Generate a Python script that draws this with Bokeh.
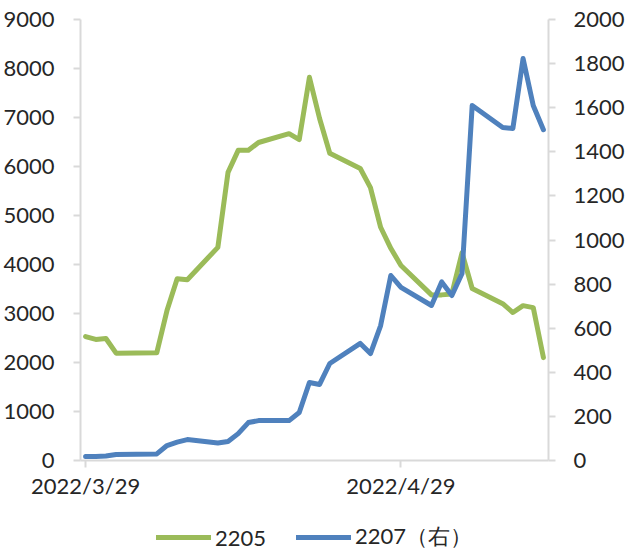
from datetime import date
from bokeh.plotting import figure
from bokeh.layouts import column
from bokeh.models import (Range1d, LinearAxis, FixedTicker, Legend, LegendItem)
from bokeh.embed import file_html
from bokeh.resources import INLINE

# ---------------- data ----------------
dates = ["2022-03-29", "2022-03-30", "2022-03-31", "2022-04-01", "2022-04-05",
         "2022-04-06", "2022-04-07", "2022-04-08", "2022-04-11", "2022-04-12",
         "2022-04-13", "2022-04-14", "2022-04-15", "2022-04-18", "2022-04-19",
         "2022-04-20", "2022-04-21", "2022-04-22", "2022-04-25", "2022-04-26",
         "2022-04-27", "2022-04-28", "2022-04-29", "2022-05-02", "2022-05-03",
         "2022-05-04", "2022-05-05", "2022-05-06", "2022-05-09", "2022-05-10",
         "2022-05-11", "2022-05-12", "2022-05-13"]

s2205 = [2530, 2470, 2490, 2190, 2200,
         3060, 3710, 3690, 4350, 5880,
         6330, 6330, 6490, 6670, 6550,
         7820, 6980, 6270, 5960, 5570,
         4760, 4330, 3980, 3380, 3380,
         3400, 4240, 3510, 3200, 3020,
         3160, 3120, 2100]

s2207 = [18, 18, 20, 27, 30,
         68, 83, 95, 79, 86,
         122, 172, 181, 181, 218,
         354, 345, 440, 531, 485,
         612, 839, 785, 703, 810,
         748, 848, 1610, 1510, 1506,
         1823, 1610, 1500]

x_tick_dates = ["2022-03-29", "2022-04-29"]
x_axis_end = "2022-05-14"
left_ticks = [0, 1000, 2000, 3000, 4000, 5000, 6000, 7000, 8000, 9000]
right_ticks = [0, 200, 400, 600, 800, 1000, 1200, 1400, 1600, 1800, 2000]
series_names = ["2205", "2207（右）"]

# ---------------- helpers ----------------
d0 = date.fromisoformat(dates[0])
def day(s):
    return (date.fromisoformat(s) - d0).days

SLOT_CENTER = 0.5  # points and date labels sit in the middle of each day slot
xs = [day(s) + SLOT_CENTER for s in dates]
label_pos = [day(s) + SLOT_CENTER for s in x_tick_dates]
label_txt = {day(s) + SLOT_CENTER: "{}/{}/{}".format(*[int(v) for v in s.split("-")])
             for s in x_tick_dates}

GREEN = "#9BBB59"
BLUE = "#4F81BD"
AXIS = "#d9d9d9"
TXT = "#262626"
FONT = "Lato"
FS = "22px"
W = 627

p = figure(width=W, height=505, output_backend="svg", toolbar_location=None,
           x_range=Range1d(0, day(x_axis_end)), y_range=Range1d(left_ticks[0], left_ticks[-1]),
           min_border_left=80, min_border_right=W - 551, min_border_top=19, min_border_bottom=45,
           x_axis_type=None, y_axis_type=None)
p.outline_line_color = None
p.xgrid.visible = False
p.ygrid.visible = False
p.extra_y_ranges = {"right": Range1d(right_ticks[0], right_ticks[-1])}

def style(ax):
    ax.axis_line_color = AXIS
    ax.axis_line_width = 2
    ax.major_tick_line_color = AXIS
    ax.major_tick_line_width = 2
    ax.major_tick_out = 7
    ax.major_tick_in = 0
    ax.minor_tick_line_color = None
    ax.major_label_text_font = FONT
    ax.major_label_text_font_size = FS
    ax.major_label_text_color = TXT

xa = LinearAxis(ticker=FixedTicker(ticks=label_pos), major_label_overrides=label_txt)
style(xa)
xa.major_label_standoff = 4
p.add_layout(xa, "below")

ya = LinearAxis(ticker=FixedTicker(ticks=left_ticks))
style(ya)
ya.major_label_standoff = 19
p.add_layout(ya, "left")

yr = LinearAxis(y_range_name="right", ticker=FixedTicker(ticks=right_ticks))
style(yr)
yr.major_label_standoff = 18
p.add_layout(yr, "right")

line_kw = dict(line_width=5, line_join="round", line_cap="round")
p.line(xs, s2205, line_color=GREEN, **line_kw)
p.line(xs, s2207, line_color=BLUE, y_range_name="right", **line_kw)

# ---- legend strip below the chart (hidden copies of the series feed the legend) ----
lg = figure(width=W, height=50, output_backend="svg", toolbar_location=None,
            x_range=Range1d(0, 1), y_range=Range1d(0, 1),
            min_border_left=3, min_border_right=0, min_border_top=0, min_border_bottom=0,
            x_axis_type=None, y_axis_type=None)
lg.outline_line_color = None
lg.xgrid.visible = False
lg.ygrid.visible = False
lg_g = lg.line(xs, s2205, line_color=GREEN, visible=False, **line_kw)
lg_b = lg.line(xs, s2207, line_color=BLUE, visible=False, **line_kw)

legend = Legend(items=[LegendItem(label=series_names[0], renderers=[lg_g]),
                       LegendItem(label=series_names[1], renderers=[lg_b])],
                orientation="horizontal", location="bottom_center",
                padding=0, margin=3, spacing=30, label_standoff=4,
                glyph_width=55, glyph_height=20,
                label_text_font=FONT, label_text_font_size=FS,
                label_text_color=TXT, inactive_fill_alpha=0,
                background_fill_alpha=0, border_line_color=None)
lg.add_layout(legend, "center")

open("out.html", "w").write(file_html(column(p, lg), INLINE))
